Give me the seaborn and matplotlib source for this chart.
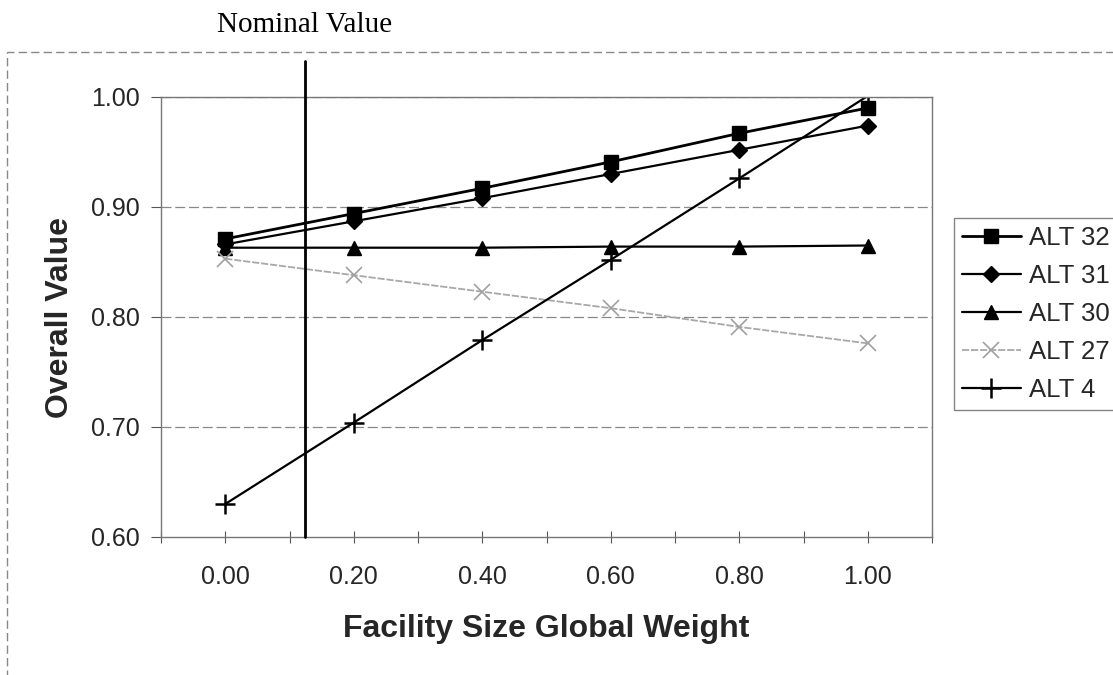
import matplotlib
matplotlib.use('Agg')
import matplotlib.pyplot as plt
from matplotlib.patches import Rectangle
from matplotlib.ticker import FormatStrFormatter, MultipleLocator
import numpy as np
import pandas as pd
import seaborn as sns

# facility size global weight (x) and overall value for each alternative
weights = [0.0, 0.2, 0.4, 0.6, 0.8, 1.0]
alt_32 = [0.871, 0.894, 0.917, 0.941, 0.967, 0.990]
alt_31 = [0.866, 0.887, 0.908, 0.930, 0.952, 0.974]
alt_30 = [0.863, 0.863, 0.863, 0.864, 0.864, 0.865]
alt_27 = [0.853, 0.838, 0.823, 0.808, 0.791, 0.776]
alt_4 = [0.630, 0.704, 0.779, 0.852, 0.926, 1.001]
series_names = ['ALT 32', 'ALT 31', 'ALT 30', 'ALT 27', 'ALT 4']
nominal_weight = 0.124

x_ticks = [0.0, 0.2, 0.4, 0.6, 0.8, 1.0]
y_ticks = [0.6, 0.7, 0.8, 0.9, 1.0]

sns.set_theme(style='white')
plt.rcParams['font.family'] = ['Liberation Sans', 'DejaVu Sans']

W, H = 1113, 675
fig = plt.figure(figsize=(W / 100, H / 100), dpi=100)
ax = fig.add_axes([161 / W, 1 - 537 / H, (932 - 161) / W, (537 - 97) / H])

# style per series: marker, size, colour, line
styles = {
    'ALT 32': dict(marker='s', markersize=9.5, color='black', lw=2.0, ls='-', mec='black', mew=1),
    'ALT 31': dict(marker='D', markersize=8.5, color='black', lw=1.6, ls='-', mec='black', mew=1),
    'ALT 30': dict(marker='^', markersize=10.5, color='black', lw=1.6, ls='-', mec='black', mew=1),
    'ALT 27': dict(marker='x', markersize=12, color='#a8a8a8', lw=1.3, ls=(0, (4, 1)), mec='#a0a0a0', mew=1.2),
    'ALT 4': dict(marker='+', markersize=14, color='black', lw=1.6, ls='-', mec='black', mew=1.8),
}
values = [alt_32, alt_31, alt_30, alt_27, alt_4]

for name, vals in zip(series_names, values):
    st = styles[name]
    sns.lineplot(x=weights, y=vals, ax=ax, color=st['color'], linewidth=st['lw'],
                 linestyle=st['ls'], marker=st['marker'], markersize=st['markersize'],
                 markeredgecolor=st['mec'], markeredgewidth=st['mew'], label=name, legend=False)

# nominal value line
ax.plot([nominal_weight, nominal_weight], [0.6, 1.0 + 36 / 1100], color='black', lw=2.0, clip_on=False, zorder=5)
ax.text(nominal_weight, 1.0 + 72 / 1100, 'Nominal Value', ha='center', va='center',
        fontsize=21, family=['Liberation Serif', 'DejaVu Serif'], color='black')

ax.set_xlim(-0.1, 1.1)
ax.set_ylim(0.6, 1.0)
ax.set_xticks(x_ticks)
ax.xaxis.set_minor_locator(MultipleLocator(0.1))
ax.set_yticks(y_ticks)
ax.xaxis.set_major_formatter(FormatStrFormatter('%.2f'))
ax.yaxis.set_major_formatter(FormatStrFormatter('%.2f'))
ax.tick_params(axis='x', which='both', direction='inout', length=8, width=0.8, color='#555555',
               labelsize=18, pad=16, bottom=True)
ax.tick_params(axis='y', which='major', direction='out', length=7, width=0.8, color='#555555',
               labelsize=18, pad=8, left=True)

for y in y_ticks[1:]:
    ax.axhline(y, color='#888888', lw=0.9, ls=(0, (8, 3)), zorder=0)

for side in ['left', 'bottom', 'right', 'top']:
    ax.spines[side].set_color('#777777')
    ax.spines[side].set_linewidth(1.0)

ax.set_xlabel('Facility Size Global Weight', fontsize=23, fontweight='bold', labelpad=18)
ax.set_ylabel('Overall Value', fontsize=23, fontweight='bold', labelpad=12)

handles, labels = ax.get_legend_handles_labels()
leg = fig.legend(handles, labels, loc='upper left', bbox_to_anchor=(954 / W, 1 - 218 / H),
                 fontsize=18.5, frameon=True, fancybox=False, edgecolor='#666666',
                 handlelength=2.3, labelspacing=0.55, borderpad=0.3, handletextpad=0.3,
                 borderaxespad=0)
leg.get_frame().set_linewidth(1.0)

# outer chart area border
fig.patches.append(Rectangle((7 / W, -0.1), 1.2, 1.1 - 52 / H, transform=fig.transFigure,
                             fill=False, edgecolor='#888888', lw=1.0, ls=(0, (6, 3))))

fig.savefig('out.png', dpi=100)
